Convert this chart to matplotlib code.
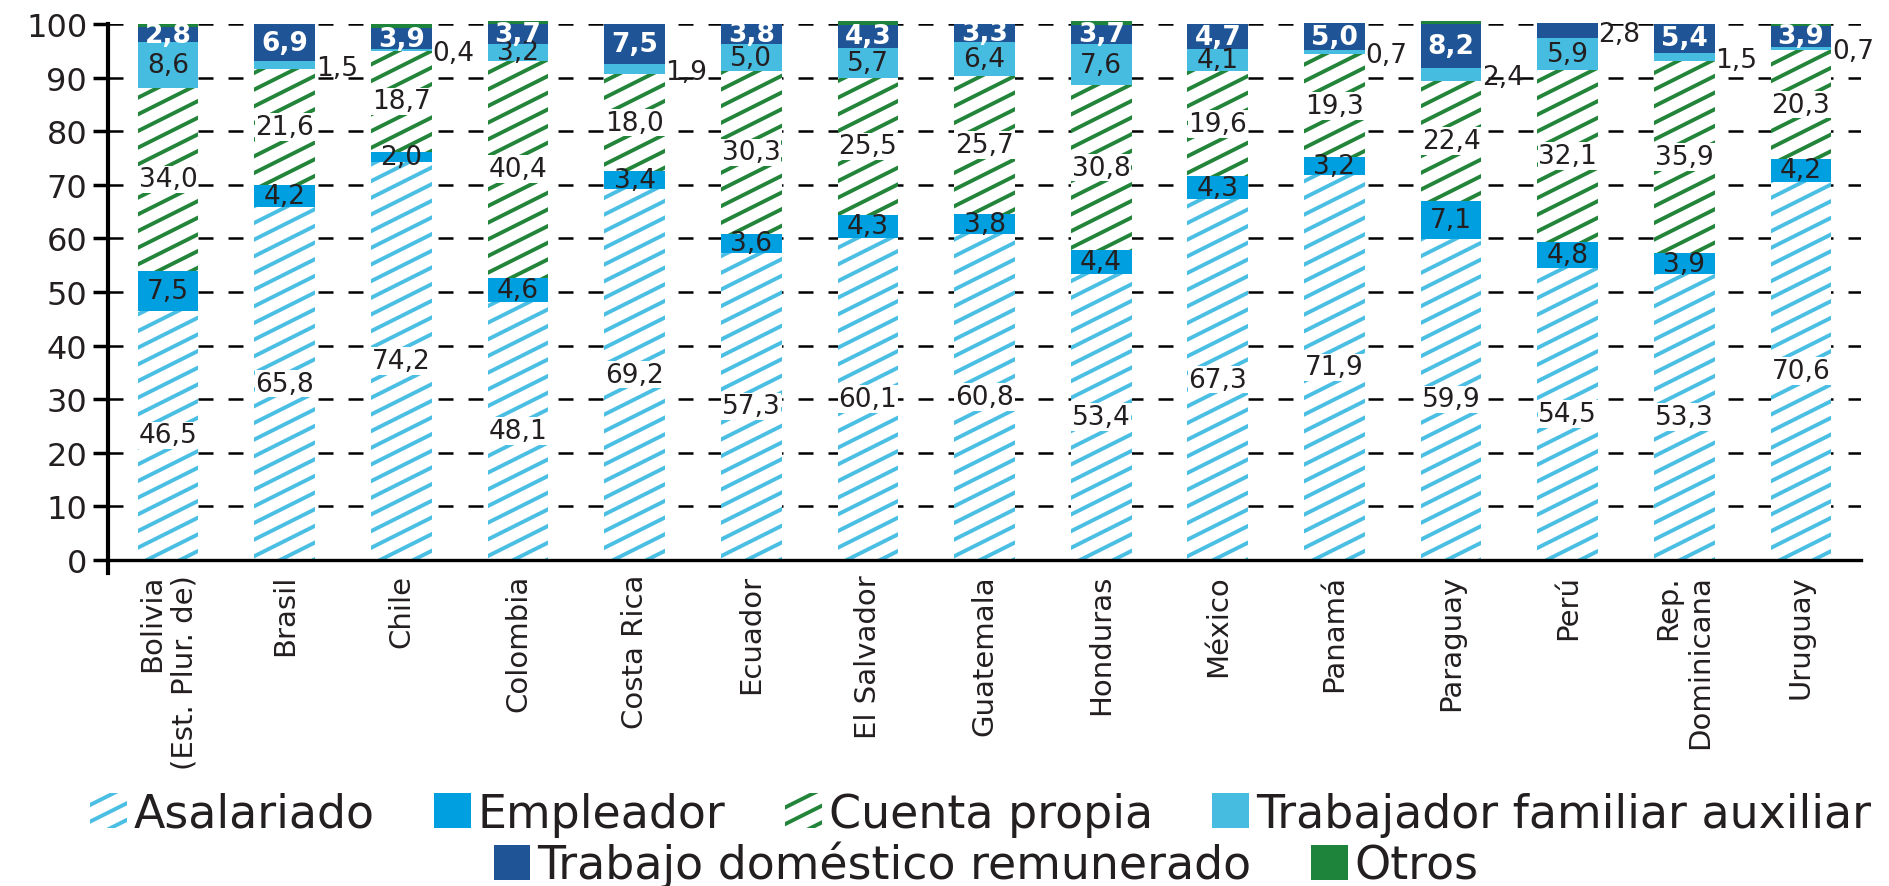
import numpy as np
import matplotlib
matplotlib.use("Agg")
import matplotlib.pyplot as plt
import matplotlib.hatch as mhatch
from matplotlib.path import Path

# Datos (porcentajes)
paises = ["Bolivia\n(Est. Plur. de)", "Brasil", "Chile", "Colombia", "Costa Rica",
          "Ecuador", "El Salvador", "Guatemala", "Honduras", "México", "Panamá",
          "Paraguay", "Perú", "Rep.\nDominicana", "Uruguay"]
asalariado = [46.5, 65.8, 74.2, 48.1, 69.2, 57.3, 60.1, 60.8, 53.4, 67.3, 71.9, 59.9, 54.5, 53.3, 70.6]
empleador = [7.5, 4.2, 2.0, 4.6, 3.4, 3.6, 4.3, 3.8, 4.4, 4.3, 3.2, 7.1, 4.8, 3.9, 4.2]
cuenta_propia = [34.0, 21.6, 18.7, 40.4, 18.0, 30.3, 25.5, 25.7, 30.8, 19.6, 19.3, 22.4, 32.1, 35.9, 20.3]
familiar = [8.6, 1.5, 0.4, 3.2, 1.9, 5.0, 5.7, 6.4, 7.6, 4.1, 0.7, 2.4, 5.9, 1.5, 0.7]
domestico = [2.8, 6.9, 3.9, 3.7, 7.5, 3.8, 4.3, 3.3, 3.7, 4.7, 5.0, 8.2, 2.8, 5.4, 3.9]
otros = [0.6, 0.0, 0.8, 0.5, 0.0, 0.0, 0.6, 0.0, 0.6, 0.0, 0.0, 0.5, 0.0, 0.0, 0.3]
# etiquetas que van fuera de la barra
familiar_fuera = [False, True, True, False, True, False, False, False, False, False, True, True, False, True, True]
domestico_fuera = [False] * 12 + [True, False, False]


# rayado con pendiente 1/2 en lugar de 45 grados
class RayadoSuave(mhatch.HatchPatternBase):
    def __init__(self, hatch, density):
        n = int((hatch.count('/') + hatch.count('x') + hatch.count('X')) * density)
        self.n = n + n % 2
        self.num_vertices = (3 * self.n // 2 + 1) * 2 if n else 0

    def set_vertices_and_codes(self, vertices, codes):
        c = np.linspace(-0.5, 1.0, 3 * self.n // 2 + 1)
        vertices[0::2, 0] = 0.0
        vertices[0::2, 1] = c
        vertices[1::2, 0] = 1.0
        vertices[1::2, 1] = c + 0.5
        codes[0::2] = Path.MOVETO
        codes[1::2] = Path.LINETO


mhatch._hatch_types[mhatch._hatch_types.index(mhatch.NorthEastHatch)] = RayadoSuave

plt.rcParams['font.family'] = ['DejaVu Sans']
plt.rcParams['hatch.linewidth'] = 2.8
texto = '#231F20'
tam = 19

fig = plt.figure(figsize=(18.89, 8.87), dpi=100)
ax = fig.add_axes([0.0572, 0.3675, 0.928, 0.6043])

x = np.arange(len(paises))
ancho = 0.52
series = [
    ("Asalariado", asalariado, dict(color='white', edgecolor='#4BBEE3', hatch='/')),
    ("Empleador", empleador, dict(color='#009FDF')),
    ("Cuenta propia", cuenta_propia, dict(color='white', edgecolor='#23853A', hatch='/')),
    ("Trabajador familiar auxiliar", familiar, dict(color='#47BCE1')),
    ("Trabajo doméstico remunerado", domestico, dict(color='#1F5597')),
    ("Otros", otros, dict(color='#1F843B')),
]

base = np.zeros(len(paises))
barras = {}
for nombre, valores, estilo in series:
    v = np.array(valores)
    barras[nombre] = ax.bar(x, v, ancho, bottom=base, label=nombre, linewidth=0,
                            clip_on=False, zorder=2, **estilo)
    for i in range(len(x)):
        txt = f"{v[i]:.1f}".replace('.', ',')
        centro = base[i] + v[i] / 2
        fuera = ((nombre == "Trabajador familiar auxiliar" and familiar_fuera[i]) or
                 (nombre == "Trabajo doméstico remunerado" and domestico_fuera[i]))
        if nombre == "Otros":
            continue
        if fuera:
            ax.text(x[i] + ancho / 2 + 0.005, centro - 0.5, txt, ha='left', va='center',
                    fontsize=tam, color=texto, zorder=4)
        elif nombre in ("Asalariado", "Cuenta propia"):
            ax.text(x[i], centro, txt, ha='center', va='center', fontsize=tam, color=texto, zorder=4,
                    bbox=dict(facecolor='white', edgecolor='none', pad=0.5))
        elif nombre == "Trabajo doméstico remunerado":
            ax.text(x[i], centro, txt, ha='center', va='center', fontsize=tam, color='white',
                    fontweight='bold', zorder=4)
        else:
            ax.text(x[i], centro, txt, ha='center', va='center', fontsize=tam, color=texto, zorder=4)
    base = base + v

# ejes
ax.set_xlim(-0.515, 14.515)
ax.set_ylim(0, 100)
ax.set_yticks(np.arange(0, 101, 10))
ax.set_xticks(x)
ax.set_xticklabels(paises, rotation=90, ma='right', fontsize=21, color=texto)
ax.tick_params(axis='x', length=0, pad=10)
ax.tick_params(axis='y', direction='out', length=11, width=2.5, labelsize=23,
               labelcolor=texto, pad=4)
ax.yaxis.grid(True, color='black', linewidth=1.8, dashes=(6, 6))
ax.set_axisbelow(True)
for lado in ('top', 'right'):
    ax.spines[lado].set_visible(False)
ax.spines['left'].set_linewidth(3)
ax.spines['left'].set_bounds(-2.5, 100)
ax.spines['bottom'].set_linewidth(2.4)

# leyenda en dos filas centradas
nombres = [s[0] for s in series]
h1 = [barras[n] for n in nombres[:4]]
h2 = [barras[n] for n in nombres[4:]]
kw = dict(frameon=False, fontsize=33, handlelength=0.8, handleheight=0.8,
          handletextpad=0.15, columnspacing=1.3, borderpad=0, labelcolor=texto)
fig.legend(h1, nombres[:4], loc='center', bbox_to_anchor=(0.519, 0.081), ncol=4, **kw)
fig.legend(h2, nombres[4:], loc='center', bbox_to_anchor=(0.522, 0.024), ncol=2, **kw)

fig.savefig("out.png", dpi=100)
